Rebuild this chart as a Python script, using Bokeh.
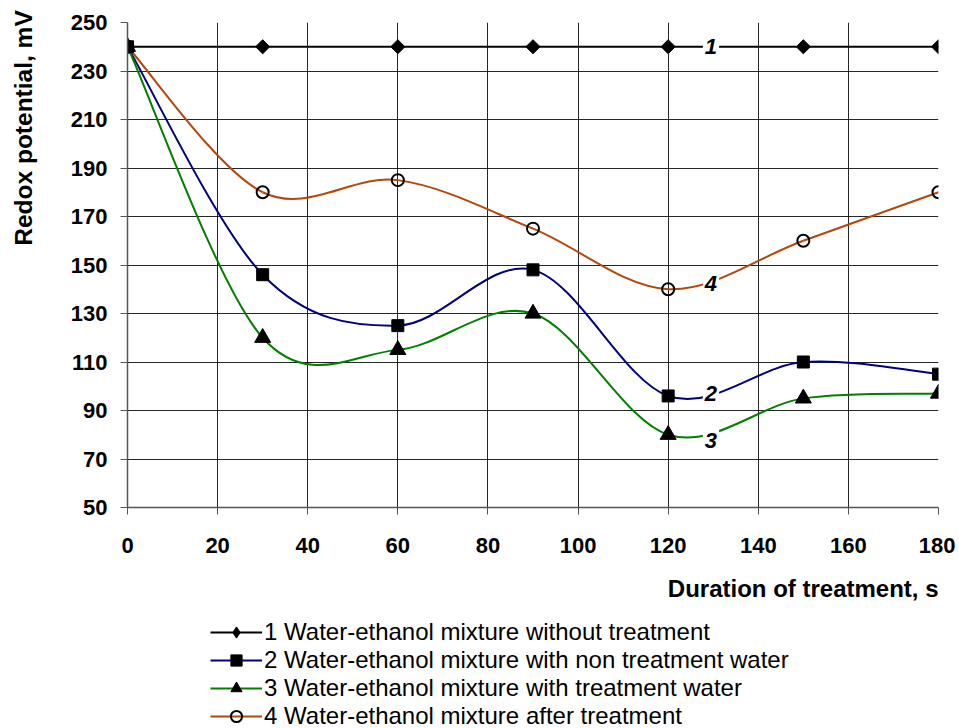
import numpy as np
from bokeh.plotting import figure
from bokeh.layouts import column, row
from bokeh.models import (ColumnDataSource, FixedTicker, Legend, LegendItem, Label,
                          Range1d)
from bokeh.embed import file_html
from bokeh.resources import INLINE

# ---- data -------------------------------------------------------------
time_s = [0, 30, 60, 90, 120, 150, 180]
series1 = [240, 240, 240, 240, 240, 240, 240]
series2 = [240, 146, 125, 148, 96, 110, 105]
series3 = [240, 120, 115, 130, 80, 95, 97]
series4 = [240, 180, 185, 165, 140, 160, 180]
series_names = [
    "1 Water-ethanol mixture without treatment",
    "2 Water-ethanol mixture with non treatment water",
    "3 Water-ethanol mixture with treatment water",
    "4 Water-ethanol mixture after treatment",
]
curve_tags = ["1", "2", "3", "4"]
tag_x = [129.5, 129.5, 129.5, 129.5]
tag_y = [240, 97.2, 77.8, 142.2]
x_ticks = [0, 20, 40, 60, 80, 100, 120, 140, 160, 180]
y_ticks = [50, 70, 90, 110, 130, 150, 170, 190, 210, 230, 250]
x_title = "Duration of treatment, s"
y_title = "Redox potential, mV"

FONT = "Liberation Sans"
W_TOTAL = 955
H_TOTAL = 728
W_LEFT = 40
W = W_TOTAL - W_LEFT
H1 = 566
H2 = H_TOTAL - H1
FRAME_L, FRAME_R, FRAME_T, FRAME_B = 127, 938, 22, 507


def smooth_segments(xs, ys):
    """Cubic Bezier segments (Catmull-Rom style smoothing, like a spreadsheet)."""
    xs = np.asarray(xs, float)
    ys = np.asarray(ys, float)
    xp = np.concatenate([[xs[0]], xs, [xs[-1]]])
    yp = np.concatenate([[ys[0]], ys, [ys[-1]]])
    d = dict(x0=[], y0=[], x1=[], y1=[], cx0=[], cy0=[], cx1=[], cy1=[])
    for i in range(len(xs) - 1):
        xa, ya = xp[i], yp[i]
        xb, yb = xp[i + 1], yp[i + 1]
        xc, yc = xp[i + 2], yp[i + 2]
        xd, yd = xp[i + 3], yp[i + 3]
        d["x0"].append(xb); d["y0"].append(yb)
        d["x1"].append(xc); d["y1"].append(yc)
        d["cx0"].append(xb + (xc - xa) / 6.0); d["cy0"].append(yb + (yc - ya) / 6.0)
        d["cx1"].append(xc - (xd - xb) / 6.0); d["cy1"].append(yc - (yd - yb) / 6.0)
    return ColumnDataSource(d)


def blank(f):
    f.grid.visible = False
    f.outline_line_color = None
    f.background_fill_color = "white"
    f.border_fill_color = "white"
    return f


# ---- main chart ------------------------------------------------------------
p = figure(width=W, height=H1, x_range=Range1d(0, 180), y_range=Range1d(50, 250),
           output_backend="svg", toolbar_location=None,
           min_border_left=FRAME_L - W_LEFT, min_border_right=W_TOTAL - FRAME_R,
           min_border_top=FRAME_T, min_border_bottom=H1 - FRAME_B)
p.outline_line_color = None
p.background_fill_color = "white"
p.border_fill_color = "white"

for ax, ticks in ((p.xaxis[0], x_ticks), (p.yaxis[0], y_ticks)):
    ax.ticker = FixedTicker(ticks=ticks)
    ax.major_label_text_font = FONT
    ax.major_label_text_font_style = "bold"
    ax.major_label_text_font_size = "22px"
    ax.major_label_text_color = "black"
    ax.axis_line_color = "#555555"
    ax.axis_line_width = 1.5
    ax.major_tick_line_color = "#555555"
    ax.major_tick_out = 7
    ax.major_tick_in = 0
    ax.minor_tick_line_color = None
p.xaxis.major_label_standoff = 23
p.yaxis.major_label_standoff = 13

for g in (p.xgrid[0], p.ygrid[0]):
    g.grid_line_color = "black"
    g.grid_line_width = 1
    g.grid_line_alpha = 0.85
p.xgrid.ticker = FixedTicker(ticks=x_ticks)
p.ygrid.ticker = FixedTicker(ticks=y_ticks)

colors = ["black", "#000080", "#008000", "#B5470B"]
all_series = [series1, series2, series3, series4]
marker_kw = [
    dict(marker="square", angle=np.pi / 4, size=10, fill_color="black", line_color="black"),
    dict(marker="square", size=12, fill_color="black", line_color="black"),
    dict(marker="triangle", size=16, fill_color="black", line_color="black"),
    dict(marker="circle", size=12, fill_alpha=0, line_color="black", line_width=2),
]
legend_marker_kw = [dict(marker_kw[0], marker="diamond", angle=0)] + marker_kw[1:]

for ys, c in zip(all_series, colors):
    p.bezier(x0="x0", y0="y0", x1="x1", y1="y1", cx0="cx0", cy0="cy0",
             cx1="cx1", cy1="cy1", source=smooth_segments(time_s, ys),
             line_color=c, line_width=2)
for ys, kw in zip(all_series, marker_kw):
    p.scatter(time_s, ys, **kw)

for t, tx, ty in zip(curve_tags, tag_x, tag_y):
    p.add_layout(Label(x=tx, y=ty, text=t, text_align="center", text_baseline="middle",
                       text_font=FONT, text_font_style="bold italic",
                       text_font_size="22px", text_color="black",
                       background_fill_color="white", padding=(2, 8)))

# ---- left strip with the y-axis title ---------------------------------------
r = blank(figure(width=W_LEFT, height=H_TOTAL, x_range=Range1d(0, W_LEFT),
                 y_range=Range1d(0, H_TOTAL), output_backend="svg",
                 toolbar_location=None, x_axis_location=None, y_axis_location=None,
                 min_border_left=0, min_border_right=0, min_border_top=0,
                 min_border_bottom=0))
r.add_layout(Label(x=23, y=H_TOTAL - 127.5, text=y_title, angle=np.pi / 2,
                   text_align="center", text_baseline="middle", text_font=FONT,
                   text_font_style="bold", text_font_size="24.5px", text_color="black"))

# ---- bottom strip: x-axis title and legend (frame aligned with the chart) ----
q = blank(figure(width=W, height=H2, x_range=Range1d(FRAME_L, FRAME_R),
                 y_range=Range1d(0, H2), output_backend="svg", toolbar_location=None,
                 x_axis_location=None, y_axis_location=None,
                 min_border_left=FRAME_L - W_LEFT, min_border_right=W_TOTAL - FRAME_R,
                 min_border_top=0, min_border_bottom=0))
q.add_layout(Label(x=FRAME_R, y=H2 - (588 - H1), text=x_title,
                   text_align="right", text_baseline="middle", text_font=FONT,
                   text_font_style="bold", text_font_size="24px", text_color="black"))

items = []
for name, c, kw in zip(series_names, colors, legend_marker_kw):
    lr = q.line([np.nan, np.nan], [np.nan, np.nan], line_color=c, line_width=2)
    mr = q.scatter([np.nan], [np.nan], **kw)
    items.append(LegendItem(label=name, renderers=[lr, mr]))

legend = Legend(items=items, location=(210 - FRAME_L, -2), orientation="vertical",
                label_text_font=FONT, label_text_font_size="24px",
                label_text_color="black", glyph_width=52, glyph_height=28,
                label_height=28, label_standoff=2, spacing=0, padding=0, margin=0,
                border_line_color=None, background_fill_alpha=0)
q.add_layout(legend, "center")

layout = row(r, column(p, q, spacing=0), spacing=0)
open("out.html", "w").write(file_html(layout, INLINE))
